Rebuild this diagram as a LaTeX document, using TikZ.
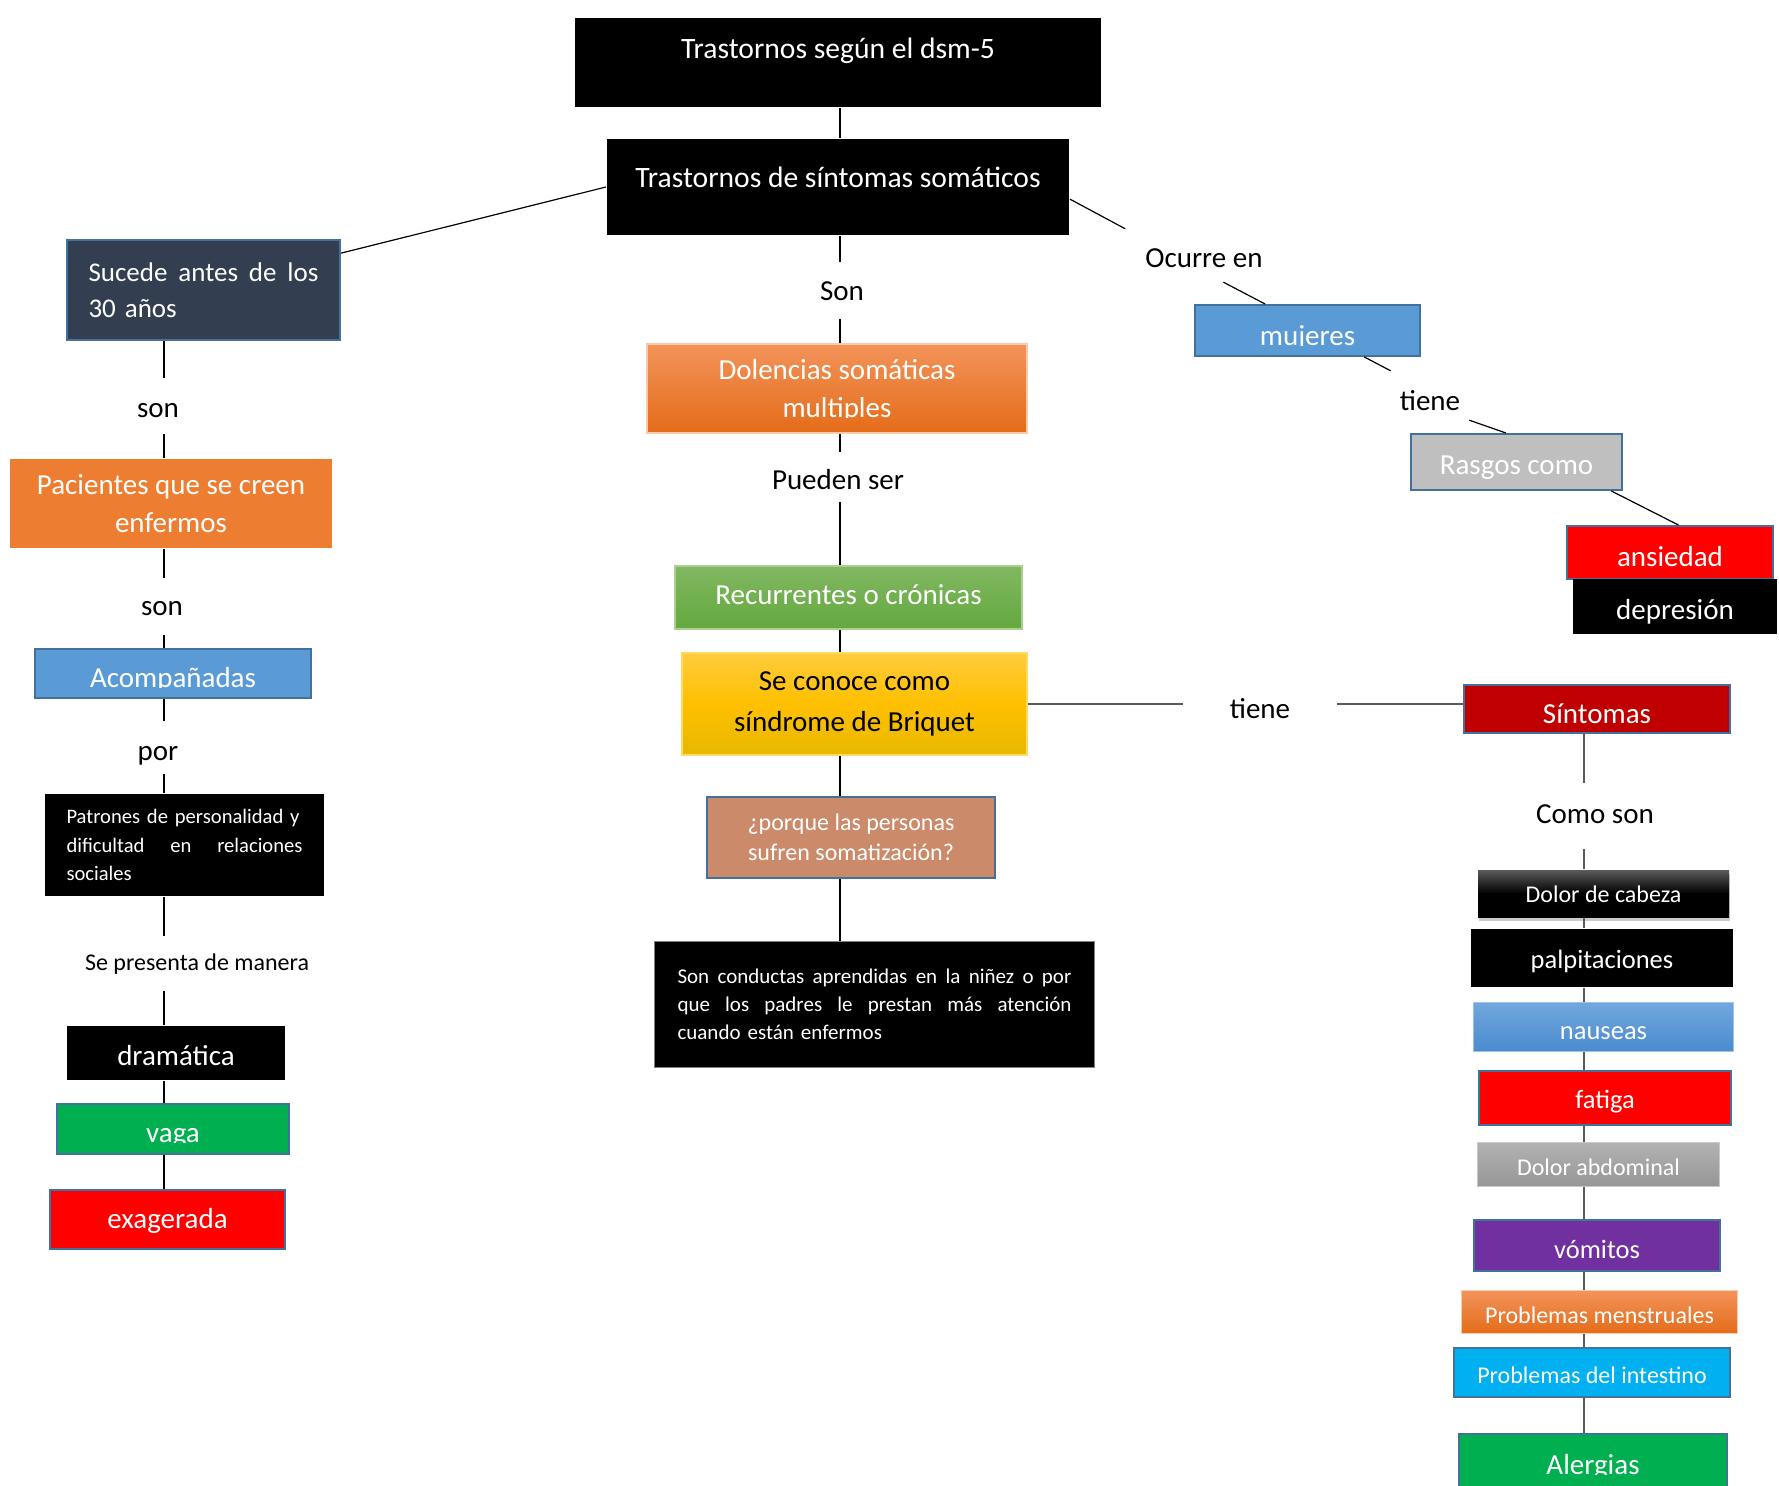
\documentclass[tikz,border=0pt]{standalone}
\usepackage{fontspec}
\setmainfont{Carlito}
\usepackage{trimclip}
\usetikzlibrary{shadows}
\definecolor{tttfvq}{HTML}{333F50}
\definecolor{urxrzc}{HTML}{41719C}
\definecolor{edxdtr}{HTML}{ED7D31}
\definecolor{vbzbdv}{HTML}{5B9BD5}
\definecolor{qqbqvq}{HTML}{00B050}
\definecolor{ffqqqq}{HTML}{FF0000}
\definecolor{cqqqqq}{HTML}{C00000}
\definecolor{xqtqaq}{HTML}{7030A0}
\definecolor{qqbqfq}{HTML}{00B0F0}
\definecolor{bfbfbf}{HTML}{BFBFBF}
\definecolor{cbyawa}{HTML}{CB8A6A}
\definecolor{ftzvva}{HTML}{F3935A}
\definecolor{euwcrz}{HTML}{E46C19}
\definecolor{fycbad}{HTML}{F8CBAD}
\definecolor{yrbyws}{HTML}{81B862}
\definecolor{wuayte}{HTML}{64A83E}
\definecolor{azdrye}{HTML}{A9D18E}
\definecolor{ffcbtd}{HTML}{FFCB3D}
\definecolor{ffcqqq}{HTML}{FFC000}
\definecolor{ewbyqq}{HTML}{E6B800}
\definecolor{ffdzww}{HTML}{FFD966}
\definecolor{xraxdd}{HTML}{71A7DD}
\definecolor{uaybcf}{HTML}{4A8BCF}
\definecolor{zdctew}{HTML}{9DC3E6}
\definecolor{bsbsbs}{HTML}{B2B2B2}
\definecolor{zwzwzw}{HTML}{969696}
\definecolor{czczcz}{HTML}{C9C9C9}
\definecolor{vavava}{HTML}{5A5A5A}
\definecolor{vzvzvz}{HTML}{595959}
\newcommand{\cortado}[1]{\clipbox{0pt 12pt 0pt 0pt}{\rule[-12pt]{0pt}{12pt}#1}}
\begin{document}
\begin{tikzpicture}[x=1pt,y=-1pt,
  caja/.style={anchor=north west,inner ysep=0pt,inner xsep=4pt,align=center,text=white,line width=2pt,font=\fontsize{29}{38}\selectfont},
  rotulo/.style={anchor=base,inner sep=0pt,font=\fontsize{29}{38}\selectfont},
  linea/.style={line width=1.2pt},
  lineagris/.style={line width=2pt,draw=vzvzvz}]
\useasboundingbox[fill=white] (0,0) rectangle (1779,1485);
\node[caja,fill=black,minimum width=526pt,text height=41pt,text depth=48pt,font=\fontsize{29.6}{38}\selectfont] (dsm) at (574,17) {Trastornos según el dsm-5};
\node[caja,fill=black,minimum width=462pt,text height=48pt,text depth=48pt,font=\fontsize{29.6}{38}\selectfont] (somat) at (606,138) {Trastornos de síntomas somáticos};

\node[caja,fill=tttfvq,draw=urxrzc,minimum width=273pt,minimum height=100pt,text width=230pt,align=left,font=\fontsize{27}{36}\selectfont] (sucede) at (66,239) {Sucede\hfill antes\hfill de\hfill los\\30 años\\[-6pt]};
\node[rotulo,text height=39pt,text depth=17pt] (son1) at (158,417) {son};
\node[caja,fill=edxdtr,minimum width=322pt,minimum height=89pt] (pacientes) at (9,458) {Pacientes que se creen\\enfermos};
\node[rotulo,text height=37pt,text depth=20pt] (son2) at (162,615) {son};
\node[caja,fill=vbzbdv,draw=urxrzc,minimum width=276pt,text height=38pt,text depth=11pt] (acomp) at (34,648) {\cortado{Acompañadas}};
\node[rotulo,text height=39pt,text depth=14pt] (por) at (158,760) {por};
\node[caja,fill=black,minimum width=279pt,minimum height=102pt,text width=236pt,align=left,font=\fontsize{20.6}{28.5}\selectfont] (patrones) at (44,793) {Patrones de personalidad y\\dificultad\hfill en\hfill relaciones\\sociales};
\node[rotulo,text height=34pt,text depth=21pt,font=\fontsize{24}{30}\selectfont] (presenta) at (197,970) {Se presenta de manera};
\node[caja,fill=black,minimum width=218pt,text height=39pt,text depth=15pt] (dramatica) at (66,1025) {dramática};
\node[caja,fill=qqbqvq,draw=urxrzc,minimum width=232pt,text height=38pt,text depth=12pt] (vaga) at (56,1103) {\cortado{vaga}};
\node[caja,fill=ffqqqq,draw=urxrzc,minimum width=235pt,text height=38pt,text depth=21pt] (exagerada) at (49,1189) {exagerada};

\node[rotulo,text height=38pt,text depth=19pt] (son3) at (842,300) {Son};
\node[caja,top color=ftzvva,bottom color=euwcrz,draw=fycbad,minimum width=380pt,minimum height=89pt] (dolencias) at (646,343) {Dolencias somáticas\\\cortado{multiples}};
\node[rotulo,text height=37pt,text depth=13pt] (pueden) at (838,489) {Pueden ser};
\node[caja,top color=yrbyws,bottom color=wuayte,draw=azdrye,minimum width=347pt,text height=38pt,text depth=25pt] (recurrentes) at (674,565) {Recurrentes o crónicas};
\node[caja,top color=ffcbtd,bottom color=ewbyqq,middle color=ffcqqq,draw=ffdzww,text=black,minimum width=345pt,minimum height=102pt,font=\fontsize{29}{41}\selectfont] (seconoce) at (681,652) {Se conoce como\\síndrome de Briquet};
\node[caja,fill=cbyawa,draw=urxrzc,minimum width=288pt,minimum height=81pt,font=\fontsize{24}{30}\selectfont] (porque) at (706,796) {¿porque las personas\\sufren somatización?};
\node[caja,fill=black,draw=gray,line width=1pt,minimum width=440pt,minimum height=126pt,text width=394pt,align=left,font=\fontsize{21}{28}\selectfont] (conductas) at (654,941) {Son\hfill conductas\hfill aprendidas\hfill en\hfill la\hfill niñez\hfill o\hfill por\\que\hfill los\hfill padres\hfill le\hfill prestan\hfill más\hfill atención\\cuando están enfermos};

\node[rotulo,inner xsep=20pt,text height=38pt,text depth=15pt] (ocurre) at (1204,267) {Ocurre en};
\node[caja,fill=vbzbdv,draw=urxrzc,minimum width=225pt,text height=40pt,text depth=11pt] (mujeres) at (1194,304) {\cortado{mujeres}};
\node[rotulo,inner xsep=9pt,text height=39pt,text depth=10pt] (tiene1) at (1430,410) {tiene};
\node[caja,fill=bfbfbf,draw=urxrzc,minimum width=211pt,text height=40pt,text depth=16pt] (rasgos) at (1410,433) {Rasgos como};
\node[caja,fill=ffqqqq,draw=urxrzc,minimum width=206pt,text height=40pt,text depth=13pt] (ansiedad) at (1566,525) {ansiedad};
\node[caja,fill=black,minimum width=204pt,text height=40pt,text depth=15pt] (depresion) at (1572,578) {depresión};

\node[caja,fill=cqqqqq,draw=urxrzc,minimum width=266pt,text height=38pt,text depth=10pt] (sintomas) at (1463,684) {\cortado{Síntomas}};
\node[rotulo,inner xsep=47pt,text height=30pt,text depth=10pt] (tiene2) at (1260,718) {tiene};
\node[rotulo,text height=40pt,text depth=26pt] (comoson) at (1595,823) {Como son};
\node[caja,top color=vavava,bottom color=black,middle color=black,drop shadow={opacity=0.4,shadow xshift=1pt,shadow yshift=-4pt},minimum width=251pt,text height=32pt,text depth=15pt,font=\fontsize{24}{28}\selectfont] (cabeza) at (1477,869) {Dolor de cabeza};
\node[caja,fill=black,minimum width=262pt,text height=39pt,text depth=19pt,font=\fontsize{26.5}{32}\selectfont] (palpit) at (1470,928) {palpitaciones};
\node[caja,top color=xraxdd,bottom color=uaybcf,draw=zdctew,line width=1pt,minimum width=260pt,text height=37pt,text depth=12pt,font=\fontsize{26.5}{32}\selectfont] (nauseas) at (1473,1002) {nauseas};
\node[caja,fill=ffqqqq,draw=urxrzc,minimum width=252pt,text height=37pt,text depth=17pt,font=\fontsize{26.5}{32}\selectfont] (fatiga) at (1478,1070) {fatiga};
\node[caja,top color=bsbsbs,bottom color=zwzwzw,draw=czczcz,line width=1pt,minimum width=242pt,text height=33pt,text depth=11pt,font=\fontsize{24}{28}\selectfont] (abdominal) at (1477,1142) {Dolor abdominal};
\node[caja,fill=xqtqaq,draw=urxrzc,minimum width=246pt,text height=38pt,text depth=13pt,font=\fontsize{26.5}{32}\selectfont] (vomitos) at (1473,1219) {vómitos};
\node[caja,top color=ftzvva,bottom color=euwcrz,draw=fycbad,line width=1pt,minimum width=276pt,text height=33pt,text depth=10pt,font=\fontsize{24}{30}\selectfont] (menstrual) at (1461,1290) {Problemas menstruales};
\node[caja,fill=qqbqfq,draw=urxrzc,minimum width=276pt,text height=35pt,text depth=14pt,font=\fontsize{24}{30}\selectfont] (intestino) at (1453,1347) {Problemas del intestino};
\node[caja,fill=qqbqvq,draw=urxrzc,minimum width=268pt,text height=40pt,text depth=20pt] (alergias) at (1458,1433) {\cortado{Alergias}};

\coordinate (ejeizq) at (164,0);
\coordinate (ejecen) at (840,0);
\coordinate (ejeder) at (1584,0);
\foreach \a/\b in {sucede/son1,son1/pacientes,pacientes/son2,son2/acomp,acomp/por,por/patrones,patrones/presenta,presenta/dramatica,dramatica/vaga,vaga/exagerada}
  \draw[linea] (\a.south -| ejeizq) -- (\b.north -| ejeizq);
\foreach \a/\b in {dsm/somat,somat/son3,son3/dolencias,dolencias/pueden,pueden/recurrentes,recurrentes/seconoce,seconoce/porque,porque/conductas}
  \draw[linea] (\a.south -| ejecen) -- (\b.north -| ejecen);
\foreach \a/\b in {sintomas/comoson,comoson/cabeza,cabeza/palpit,palpit/nauseas,nauseas/fatiga,fatiga/abdominal,abdominal/vomitos,vomitos/menstrual,menstrual/intestino,intestino/alergias}
  \draw[lineagris] (\a.south -| ejeder) -- (\b.north -| ejeder);
\draw[linea] (somat.west) -- (sucede.15);
\draw[linea] (somat.-3) -- (ocurre.north west);
\draw[linea] (ocurre.-54) -- (mujeres.148);
\draw[linea] (mujeres.-25) -- (tiene1.north west);
\draw[linea] (tiene1.south east) -- (rasgos.110);
\draw[linea] (rasgos.-17) -- (ansiedad.73);
\draw[lineagris] (seconoce.east) -- (seconoce.east -| tiene2.west);
\draw[lineagris] (seconoce.east -| tiene2.east) -- (seconoce.east -| sintomas.west);
\end{tikzpicture}
\end{document}
